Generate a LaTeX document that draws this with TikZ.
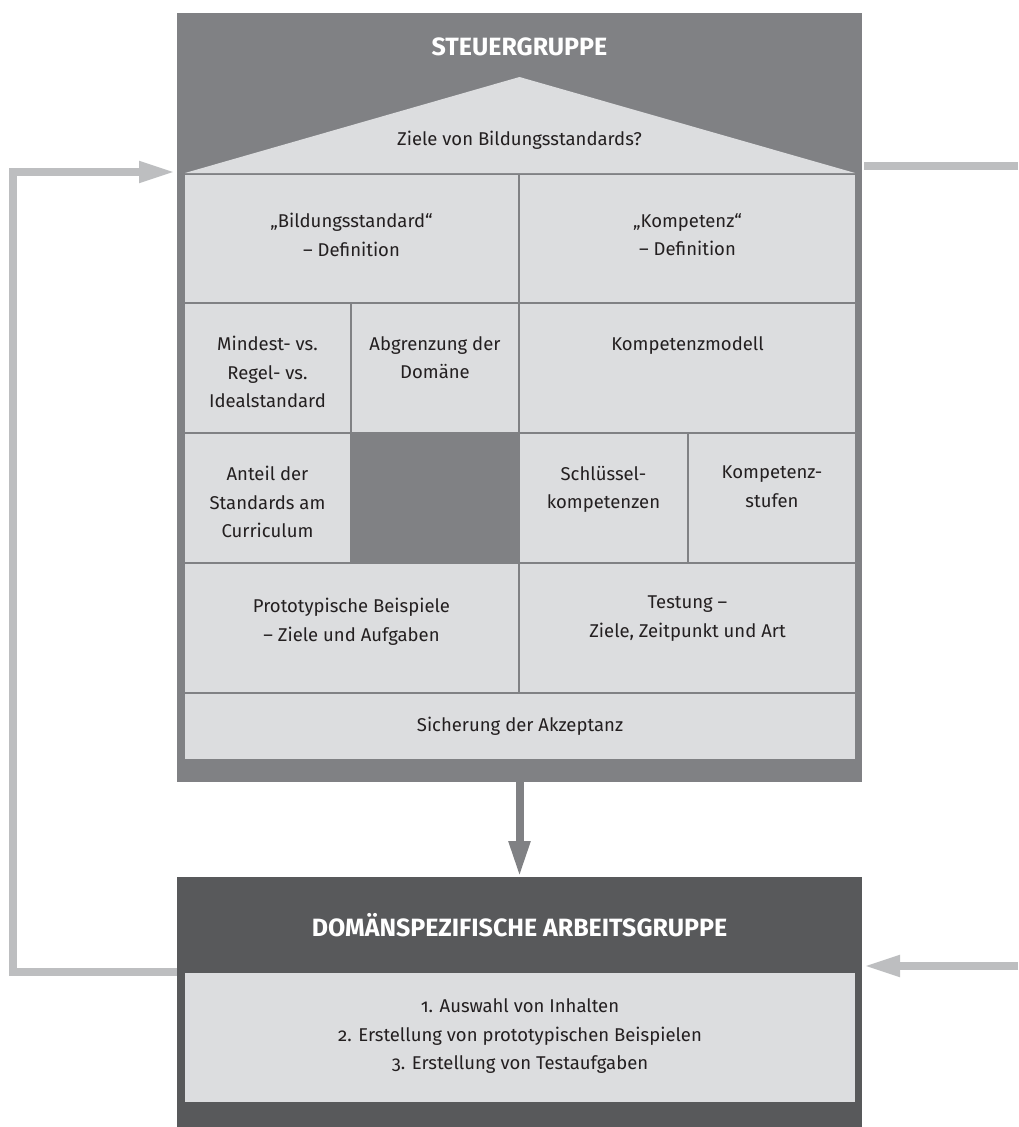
\documentclass[tikz,border=0pt]{standalone}
\usepackage{fontspec}
\setmainfont{Fira Sans}
\usetikzlibrary{positioning,arrows.meta,calc}

\definecolor{boxgray}{HTML}{808184}
\definecolor{darkbox}{HTML}{58595B}
\definecolor{panel}{HTML}{DCDDDF}
\definecolor{flow}{HTML}{BDBEC0}
\definecolor{ink}{HTML}{231F20}

\begin{document}
\begin{tikzpicture}[x=1pt,y=-1pt,
  cell/.style={fill=panel, anchor=north west, inner sep=0pt, outer sep=0pt},
  celltext/.style={text=ink, align=center, inner sep=0pt, font=\fontsize{18.5}{28.5}\selectfont},
  grouptitle/.style={text=white, font=\fontsize{25}{29}\selectfont\bfseries},
  flowline/.style={flow, line width=7.5pt},
  tip/.style={-{Triangle[length=36pt,width=20pt]}}
]
\useasboundingbox (0,0) rectangle (1018,1127);

% Steuergruppe
\node[cell, fill=boxgray, minimum width=685pt, minimum height=769pt] (steuer) at (177,13) {};
\node[grouptitle] (steuertitle) at (519.5,47) {STEUERGRUPPE};

% Roof
\fill[panel] (185,173) -- (519.5,77) -- (855,173) -- cycle;
\node[celltext] (ziele) at (519.5,140) {Ziele von Bildungsstandards?};

% Row 1
\node[cell, minimum width=333pt, minimum height=127pt] (bildung) at (185,175) {};
\node[cell, minimum width=335pt, minimum height=127pt] (kompetenz) at (520,175) {};
\node[celltext, below=38pt of bildung.north] {„Bildungsstandard“\\– Definition};
\node[celltext, below=38pt of kompetenz.north] {„Kompetenz“\\– Definition};

% Row 2
\node[cell, minimum width=165pt, minimum height=128pt] (mindest) at (185,304) {};
\node[cell, minimum width=166pt, minimum height=128pt] (abgrenzung) at (352,304) {};
\node[cell, minimum width=335pt, minimum height=128pt] (modell) at (520,304) {};
\node[celltext, below=32pt of mindest.north] {Mindest- vs.\\Regel- vs.\\Idealstandard};
\node[celltext, below=32pt of abgrenzung.north] {Abgrenzung der\\Domäne};
\node[celltext, below=32pt of modell.north] {Kompetenzmodell};

% Row 3
\node[cell, minimum width=165pt, minimum height=128pt] (anteil) at (185,434) {};
\node[cell, minimum width=167pt, minimum height=128pt] (schluessel) at (520,434) {};
\node[cell, minimum width=166pt, minimum height=128pt] (stufen) at (689,434) {};
\node[celltext, below=32pt of anteil.north] {Anteil der\\Standards am\\Curriculum};
\node[celltext, below=32pt of schluessel.north] {Schlüssel-\\kompetenzen};
\node[celltext, below=32pt of stufen.north] {Kompetenz-\\stufen};

% Row 4
\node[cell, minimum width=333pt, minimum height=128pt] (proto) at (185,564) {};
\node[cell, minimum width=335pt, minimum height=128pt] (testung) at (520,564) {};
\node[celltext, below=34pt of proto.north] {Prototypische Beispiele\\– Ziele und Aufgaben};
\node[celltext, below=32pt of testung.north] {Testung –\\Ziele, Zeitpunkt und Art};

% Row 5
\node[cell, minimum width=670pt, minimum height=65pt] (sicherung) at (185,694) {};
\node[celltext] at (sicherung.center) {Sicherung der Akzeptanz};

% Arbeitsgruppe
\node[cell, fill=darkbox, minimum width=685pt, minimum height=250pt] (arbeit) at (177,877) {};
\node[grouptitle] (arbeittitle) at (519.5,925) {DOMÄNSPEZIFISCHE ARBEITSGRUPPE};
\node[cell, minimum width=670pt, minimum height=129pt] (aufgaben) at (185,973) {};
\node[celltext, yshift=1pt] at (aufgaben.center) {\addfontfeatures{Numbers=OldStyle}1. Auswahl von Inhalten\\
  \addfontfeatures{Numbers=OldStyle}2. Erstellung von prototypischen Beispielen\\
  \addfontfeatures{Numbers=OldStyle}3. Erstellung von Testaufgaben};

% Down arrow
\draw[boxgray, line width=8pt, tip] (steuer.south) -- (arbeit.north);

% Feedback loop on the left
\coordinate (leftout) at (177,972);
\coordinate (leftin) at (175,172);
\draw[flowline, tip] (leftout) -| (13,172) -- (leftin);

% Lines on the right
\coordinate (rightout) at (864,166);
\coordinate (rightedge) at (1018,166);
\draw[flowline] (rightout) -- (rightedge);
\coordinate (rightfrom) at (1018,966);
\coordinate (rightin) at (864,966);
\draw[flowline, tip] (rightfrom) -- (rightin);

\end{tikzpicture}
\end{document}
